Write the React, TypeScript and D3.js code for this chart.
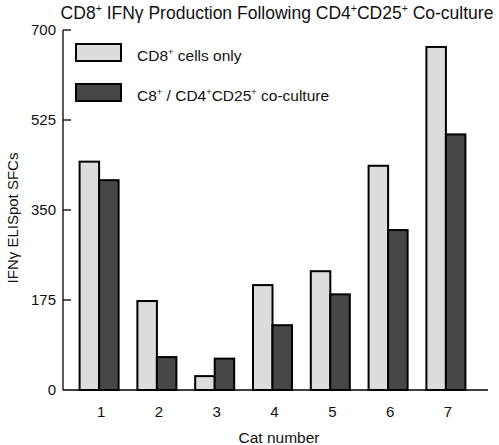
import React from "react";
import * as d3 from "d3";

const categories = ["1", "2", "3", "4", "5", "6", "7"];
const cd8Only = [444, 173, 27, 204, 231, 436, 667];
const coCulture = [408, 64, 61, 126, 186, 311, 497];
const yTicks = [0, 175, 350, 525, 700];
const seriesNames = ["cd8", "co"];

const W = 499;
const H = 445;
const FONT = "'Liberation Sans', Arial, Helvetica, sans-serif";
const LIGHT = "#dcdcdc";
const DARK = "#474747";

type Seg = { t: string; sup?: boolean };

function Rich({ segs, x, y, size, anchor = "start", transform }: { segs: Seg[]; x: number; y: number; size: number; anchor?: string; transform?: string }) {
  const supSize = size * 0.6;
  const shift = size * 0.38;
  let prevSup = false;
  const children = segs.map((s, i) => {
    let dy = 0;
    if (s.sup && !prevSup) dy = -shift;
    else if (!s.sup && prevSup) dy = shift;
    prevSup = !!s.sup;
    return (
      <tspan key={i} dy={dy} fontSize={s.sup ? supSize : size}>
        {s.t}
      </tspan>
    );
  });
  return (
    <text x={x} y={y} fontSize={size} textAnchor={anchor as any} fontFamily={FONT} fill="#111" transform={transform}>
      {children}
    </text>
  );
}

export default function App() {
  const y = d3.scaleLinear().domain([0, 700]).range([390, 30]);
  const x = d3.scaleBand<string>().domain(categories).range([70, 475]).paddingInner(0.325).paddingOuter(0.166);
  const xs = d3.scaleBand<string>().domain(seriesNames).range([0, x.bandwidth()]);
  const axisX0 = 63;
  const axisX1 = 488;

  const data = categories.map((c, i) => ({ c, vals: [cd8Only[i], coCulture[i]] }));

  return (
    <svg width={W} height={H} style={{ position: "absolute", left: 0, top: 0, background: "#fff" }}>
      <rect x={0} y={0} width={W} height={H} fill="#fff" />
      {/* title */}
      <Rich
        x={277}
        y={19}
        size={17.5}
        anchor="middle"
        segs={[
          { t: "CD8" },
          { t: "+", sup: true },
          { t: " IFNγ Production Following CD4" },
          { t: "+", sup: true },
          { t: "CD25" },
          { t: "+", sup: true },
          { t: " Co-culture" },
        ]}
      />
      {/* bars */}
      {data.map((d) =>
        d.vals.map((v, j) => (
          <rect
            key={d.c + j}
            x={(x(d.c) as number) + (xs(seriesNames[j]) as number)}
            y={y(v)}
            width={xs.bandwidth()}
            height={y(0) - y(v)}
            fill={j === 0 ? LIGHT : DARK}
            stroke="#000"
            strokeWidth={2}
          />
        ))
      )}
      {/* axes */}
      <line x1={axisX0} x2={axisX0} y1={y(700)} y2={y(0)} stroke="#000" strokeWidth={1.3} />
      <line x1={axisX0} x2={axisX1} y1={y(0)} y2={y(0)} stroke="#000" strokeWidth={1.3} />
      {yTicks.map((t) => (
        <g key={t}>
          {t !== 0 && <line x1={axisX0} x2={axisX0 + 8} y1={y(t)} y2={y(t)} stroke="#000" strokeWidth={1.3} />}
          <text x={axisX0 - 7} y={y(t) + 5} textAnchor="end" fontSize={15} fontFamily={FONT} fill="#111">
            {t}
          </text>
        </g>
      ))}
      {categories.map((c) => (
        <text key={c} x={(x(c) as number) + x.bandwidth() / 2 + 2} y={417} textAnchor="middle" fontSize={15} fontFamily={FONT} fill="#111">
          {c}
        </text>
      ))}
      <text x={279} y={443} textAnchor="middle" fontSize={15.5} fontFamily={FONT} fill="#111">
        Cat number
      </text>
      <text x={0} y={0} transform="translate(18,218) rotate(-90)" textAnchor="middle" fontSize={15} fontFamily={FONT} fill="#111">
        IFNγ ELISpot SFCs
      </text>
      {/* legend */}
      <rect x={76} y={44} width={45} height={17} fill={LIGHT} stroke="#000" strokeWidth={2} />
      <rect x={76} y={84} width={45} height={17} fill={DARK} stroke="#000" strokeWidth={2} />
      <Rich x={137} y={61} size={15.5} segs={[{ t: "CD8" }, { t: "+", sup: true }, { t: " cells only" }]} />
      <Rich
        x={137}
        y={101}
        size={15.5}
        segs={[{ t: "C8" }, { t: "+", sup: true }, { t: " / CD4" }, { t: "+", sup: true }, { t: "CD25" }, { t: "+", sup: true }, { t: " co-culture" }]}
      />
    </svg>
  );
}
